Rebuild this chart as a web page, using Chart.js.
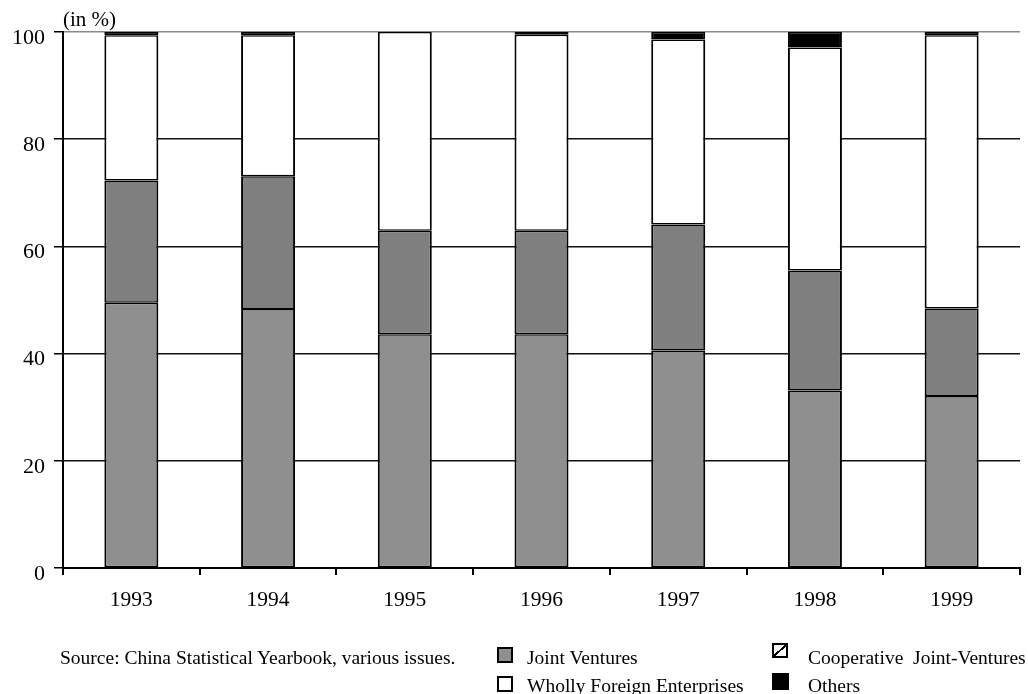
<!DOCTYPE html>
<html>
<head>
<meta charset="utf-8">
<script src="https://cdn.jsdelivr.net/npm/chart.js@4/dist/chart.umd.min.js"></script>
<style>
  html, body { margin: 0; padding: 0; background: #fff; }
  #wrap { position: relative; width: 1028px; height: 694px; font-family: "Liberation Serif", "DejaVu Serif", serif; color: #000; }
  #chart { position: absolute; left: 0; top: 0; }
  .txt { position: absolute; font-size: 19.5px; line-height: 21px; white-space: nowrap; }
  .sw { position: absolute; border: 2px solid #000; box-sizing: border-box; }
</style>
</head>
<body>
<div id="wrap">
  <canvas id="chart" width="1028" height="694"></canvas>
  <div class="txt" style="left:63px; top:9px; font-size:21px;">(in %)</div>
  <div class="txt" style="left:60px; top:647px;">Source: China Statistical Yearbook, various issues.</div>

  <div class="sw" style="left:497px; top:647px; width:16px; height:16px; background:#8f8f8f;"></div>
  <div class="txt" style="left:527px; top:647px;">Joint Ventures</div>
  <div class="sw" style="left:497px; top:676px; width:16px; height:16px; background:#fff;"></div>
  <div class="txt" style="left:527px; top:675px;">Wholly Foreign Enterprises</div>

  <div class="sw" style="left:772px; top:643px; width:16px; height:15px; background:linear-gradient(to bottom right, #fff calc(50% - 1px), #000 calc(50% - 1px), #000 calc(50% + 1px), #fff calc(50% + 1px));"></div>
  <div class="txt" style="left:808px; top:647px;">Cooperative&nbsp; Joint-Ventures</div>
  <div class="sw" style="left:772px; top:673px; width:17px; height:17px; background:#000;"></div>
  <div class="txt" style="left:808px; top:675px;">Others</div>
</div>
<script>
// Shares of each enterprise type per year (in %)
const years = ['1993', '1994', '1995', '1996', '1997', '1998', '1999'];
const jointVentures = [49.5, 48.3, 43.6, 43.6, 40.6, 33.1, 32.1];
const cooperativeJV = [22.8, 24.8, 19.3, 19.3, 23.5, 22.4, 16.3];
const whollyForeign = [27.1, 26.3, 37.1, 36.6, 34.5, 41.6, 51.0];
const others = [0.6, 0.6, 0, 0.5, 1.4, 2.9, 0.6];
const yTicks = [0, 20, 40, 60, 80, 100];

const segBorder = { left: 2, right: 2, top: 1.5, bottom: 1.5 };
function series(label, data, fill) {
  return {
    label, data,
    backgroundColor: fill,
    borderColor: '#000',
    borderWidth: segBorder,
    borderSkipped: false,
    barPercentage: 0.395,
    categoryPercentage: 1.0
  };
}

new Chart(document.getElementById('chart'), {
  type: 'bar',
  data: {
    labels: years,
    datasets: [
      series('Joint Ventures', jointVentures, '#8f8f8f'),
      series('Cooperative Joint-Ventures', cooperativeJV, '#7f7f7f'),
      series('Wholly Foreign Enterprises', whollyForeign, '#ffffff'),
      series('Others', others, '#000000')
    ]
  },
  options: {
    responsive: false,
    animation: false,
    layout: { padding: { left: 0, top: 32, right: 8, bottom: 86 } },
    plugins: { legend: { display: false }, tooltip: { enabled: false } },
    scales: {
      x: {
        stacked: true,
        afterFit: s => { s.height = 40; },
        border: { display: true, color: '#000', width: 2 },
        grid: { drawOnChartArea: false, drawTicks: true, tickLength: 7, color: '#000', lineWidth: 2 },
        ticks: { color: '#000', padding: 12, font: { family: 'Liberation Serif', size: 21.5 } }
      },
      y: {
        stacked: true,
        min: 0, max: 100,
        afterFit: s => { s.width = 63; },
        afterBuildTicks: s => { s.ticks = yTicks.map(v => ({ value: v })); },
        border: { display: true, color: '#000', width: 2 },
        grid: {
          drawTicks: true, tickLength: 9,
          color: c => (c.tick && c.tick.value === 100) ? '#8a8a8a' : '#111',
          tickColor: '#000',
          lineWidth: 1.5
        },
        ticks: { color: '#000', padding: 9, labelOffset: 6, font: { family: 'Liberation Serif', size: 22 } }
      }
    }
  }
});
</script>
</body>
</html>
